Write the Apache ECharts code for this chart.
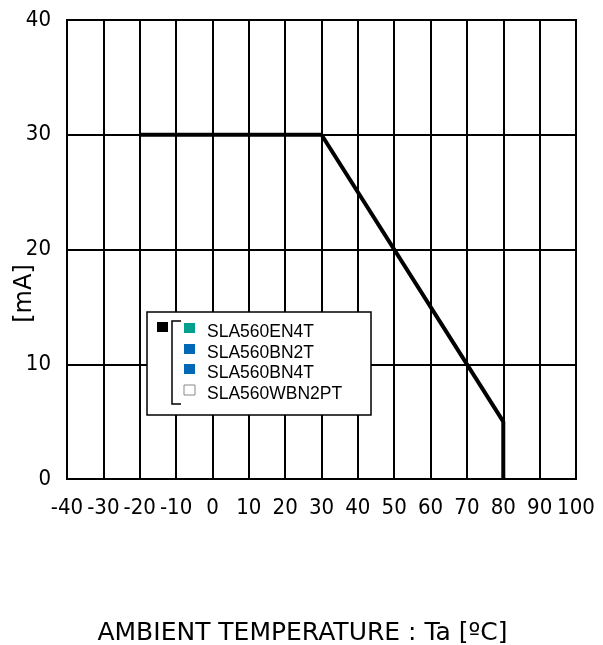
<!DOCTYPE html>
<html>
<head>
<meta charset="utf-8">
<script src="https://cdn.jsdelivr.net/npm/echarts@6/dist/echarts.min.js"></script>
<style>
  html, body { margin: 0; padding: 0; background: #fff; }
  #chart { width: 603px; height: 645px; }
</style>
</head>
<body>
<div id="chart"></div>
<script>
// derating curve
const tempX = [-20, 30, 80, 80]
const currentY = [30, 30, 5, 0]

const xTicks = [-40, -30, -20, -10, 0, 10, 20, 30, 40, 50, 60, 70, 80, 90, 100]
const yTicks = [0, 10, 20, 30, 40]

const legendNames = ['SLA560EN4T', 'SLA560BN2T', 'SLA560BN4T', 'SLA560WBN2PT']
const legendColors = ['#00a08e', '#0068b7', '#0068b7', '#ffffff']

const tickFont = '"DejaVu Sans Condensed", sans-serif'

const chart = echarts.init(document.getElementById('chart'))

// legend drawn by hand: box, black key, bracket, coloured squares
const lgX = 147, lgY = 312
const legendGraphics = [
  { type: 'rect', shape: { x: lgX, y: lgY, width: 224, height: 103 },
    style: { fill: '#fff', stroke: '#000', lineWidth: 1.5 }, z: 10 },
  { type: 'rect', shape: { x: lgX + 10, y: lgY + 10, width: 11, height: 10 },
    style: { fill: '#000' }, z: 11 },
  { type: 'polyline', shape: { points: [[lgX + 34, lgY + 9], [lgX + 25, lgY + 9], [lgX + 25, lgY + 92], [lgX + 34, lgY + 92]] },
    style: { stroke: '#000', lineWidth: 1.5, fill: null }, z: 11 }
]
legendNames.forEach(function (name, i) {
  legendGraphics.push({
    type: 'rect',
    shape: { x: lgX + 37, y: lgY + 11 + Math.round(i * 20.6), width: 11, height: 10 },
    style: { fill: legendColors[i], stroke: legendColors[i] === '#ffffff' ? '#888' : null, lineWidth: 1 },
    z: 11
  })
  legendGraphics.push({
    type: 'text',
    x: lgX + 60, y: lgY + 20 + Math.round(i * 20.6),
    style: { text: name, font: '17.5px "Liberation Sans", Arial, sans-serif', fill: '#000', verticalAlign: 'middle' },
    z: 11
  })
})

chart.setOption({
  animation: false,
  grid: { left: 67, right: 27, top: 20, bottom: 166, containLabel: false, outerBoundsMode: 'none' },
  xAxis: {
    type: 'value', min: -40, max: 100, interval: 10,
    axisLine: { show: true, onZero: false, lineStyle: { color: '#000', width: 2 } },
    axisTick: { show: false },
    splitLine: { show: true, lineStyle: { color: '#000', width: 2 } },
    axisLabel: { color: '#000', fontSize: 22, fontFamily: tickFont, margin: 18,
      formatter: function (v) { return xTicks.indexOf(v) >= 0 ? String(v) : '' } },
    name: 'AMBIENT TEMPERATURE : Ta [\u00baC]',
    nameLocation: 'middle', nameGap: 142, nameMoveOverlap: false,
    nameTextStyle: { color: '#000', fontSize: 25, fontFamily: '"DejaVu Sans", Verdana, sans-serif', padding: [0, 38, 0, 0] }
  },
  yAxis: {
    type: 'value', min: 0, max: 40, interval: 10,
    axisLine: { show: true, onZero: false, lineStyle: { color: '#000', width: 2 } },
    axisTick: { show: false },
    splitLine: { show: true, lineStyle: { color: '#000', width: 2 } },
    axisLabel: { color: '#000', fontSize: 22, fontFamily: tickFont, margin: 16,
      formatter: function (v) { return yTicks.indexOf(v) >= 0 ? String(v) : '' } },
    name: '[mA]', nameLocation: 'middle', nameGap: 30, nameRotate: 90, nameMoveOverlap: false,
    nameTextStyle: { color: '#000', fontSize: 24, fontFamily: '"DejaVu Sans", Verdana, sans-serif', padding: [0, 0, 0, -88] }
  },
  graphic: [
    { type: 'rect', shape: { x: 67, y: 20, width: 509, height: 459 },
      style: { fill: null, stroke: '#000', lineWidth: 2 }, z: 5 }
  ].concat(legendGraphics),
  series: [{
    type: 'line',
    data: tempX.map(function (x, i) { return [x, currentY[i]] }),
    showSymbol: false,
    lineStyle: { color: '#000', width: 4 },
    z: 6
  }]
})
</script>
</body>
</html>
